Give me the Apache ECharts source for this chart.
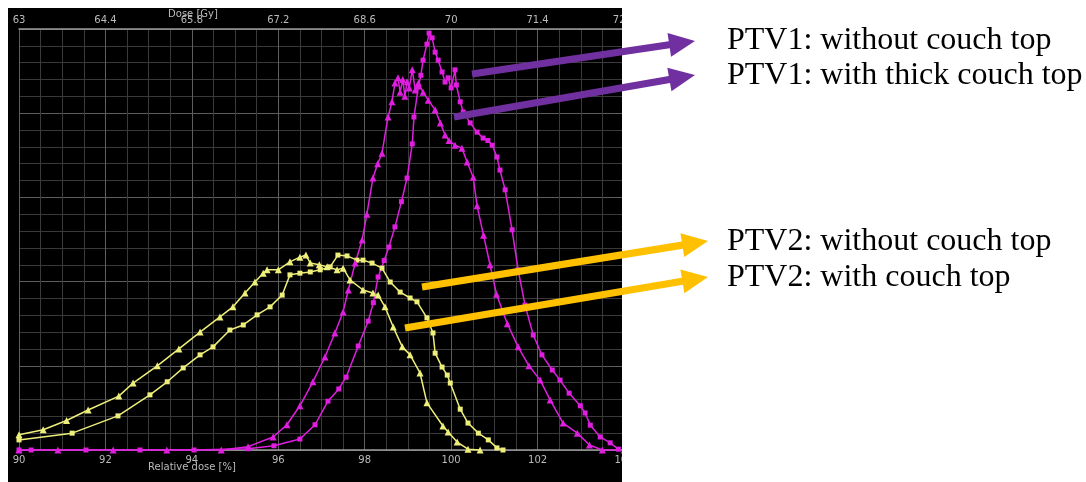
<!DOCTYPE html>
<html><head><meta charset="utf-8">
<script src="https://cdn.jsdelivr.net/npm/echarts@6/dist/echarts.min.js"></script>
<style>
html,body{margin:0;padding:0;background:#fff;}
#panel{position:absolute;left:8px;top:8px;width:614px;height:474px;background:#000;}
#chart{position:absolute;left:0;top:0;width:1086px;height:482px;}
</style></head>
<body>
<div id="panel"></div>
<div id="chart"></div>
<script>
// Relative dose [%] axis ticks and Dose [Gy] axis ticks
const relDoseRange = [90, 104];
const doseGyRange = [63, 72.8];

// PTV1 without couch top (magenta, squares): [relative dose %, volume %]
const ptv1Without = [[90,0],[90.28,0],[91.55,0],[92.8,0],[94.05,0],[95.3,0.3],[95.9,1],[96.5,2.6],[96.85,6],[97.15,11.6],[97.4,14.5],[97.57,17.3],[97.85,24.7],[98.08,30.6],[98.2,35],[98.31,41.1],[98.45,45],[98.56,48.2],[98.7,53],[98.85,59],[98.98,64.6],[99.1,72.7],[99.14,79.1],[99.24,86.2],[99.3,89],[99.35,92.6],[99.44,96.4],[99.49,99.0],[99.56,97.9],[99.63,94.5],[99.7,92.6],[99.79,89.8],[99.86,87.4],[99.93,88.4],[100.0,86],[100.09,90.3],[100.12,86.7],[100.21,82.7],[100.28,80.3],[100.44,77.7],[100.6,75.5],[100.74,74.1],[100.85,73.5],[100.95,72.4],[101.06,69.6],[101.13,66.5],[101.25,61.8],[101.41,52.3],[101.55,42.8],[101.71,34.4],[101.9,27.3],[102.1,22.6],[102.34,19],[102.52,16.6],[102.73,13.5],[102.99,10.5],[103.1,8.8],[103.22,5.9],[103.45,3.1],[103.68,1.7],[103.87,0.2]];

// PTV1 with thick couch top (magenta, triangles)
const ptv1Thick = [[90,0],[90.9,0],[92.18,0],[93.42,0],[94.68,0],[95.3,0.8],[95.88,3.1],[96.2,6],[96.5,10.5],[96.8,16.2],[97.08,22.1],[97.31,27.8],[97.5,32.8],[97.62,38],[97.78,44.4],[97.94,49.9],[98.05,56],[98.19,64.6],[98.3,68],[98.4,70.5],[98.54,79.1],[98.63,82.7],[98.7,87.2],[98.77,88.4],[98.82,85],[98.88,88],[98.93,84],[98.98,87.5],[99.03,86],[99.1,90.3],[99.17,85.5],[99.24,87.2],[99.35,85],[99.47,83.1],[99.63,80.8],[99.75,77.7],[99.86,74.8],[99.95,73.5],[100.09,72.4],[100.25,71.7],[100.37,68.4],[100.51,64.8],[100.6,58],[100.75,51],[100.9,44],[101.05,37],[101.3,30],[101.55,24.5],[101.8,20],[102.06,16.6],[102.29,11.9],[102.59,6.4],[102.92,4],[103.2,1.2],[103.5,0],[104,0]];

// PTV2 without couch top (yellow, squares)
const ptv2Without = [[90,2.4],[91.23,4],[92.29,8.1],[93.03,13.1],[93.43,16.2],[93.8,19.5],[94.19,22.6],[94.49,24.5],[94.88,28.5],[95.19,29.7],[95.51,32.1],[95.81,34],[96.09,36.8],[96.27,41.6],[96.5,42],[96.74,42.3],[96.97,42.8],[97.2,43.5],[97.38,46.3],[97.59,46.1],[97.82,45.1],[97.96,45.1],[98.17,44.4],[98.4,43.2],[98.59,39.9],[98.82,37.5],[99.05,36.1],[99.21,35.2],[99.44,31.4],[99.58,27.8],[99.63,23],[99.79,19.7],[99.91,17.8],[99.98,15.9],[100.21,9.7],[100.39,6.4],[100.63,4],[100.86,2.4],[101.06,0.5],[101.2,0]];

// PTV2 with couch top (yellow, triangles)
const ptv2With = [[90,3.6],[90.56,4.8],[91.1,7],[91.6,9.5],[92.31,12.8],[92.64,15.9],[93.2,20],[93.7,24],[94.19,28],[94.65,31.6],[94.95,34],[95.23,37.3],[95.46,39.9],[95.65,42],[95.74,42.8],[96,42.8],[96.27,44.7],[96.5,45.8],[96.64,46.3],[96.74,44.4],[96.95,44],[97.13,43.5],[97.36,42.8],[97.5,43.2],[97.66,40.4],[97.96,38],[98.19,37.3],[98.31,36.8],[98.47,34],[98.66,29.2],[98.87,24.5],[99.05,22.6],[99.28,18.3],[99.44,11.2],[99.81,5.7],[99.93,4.3],[100.14,1.9],[100.39,0.2],[100.67,0]];

const labels = ["PTV1: without couch top","PTV1: with thick couch top","PTV2: without couch top","PTV2: with couch top"];

const MAG = '#e01ee0', YEL = '#eeee7a';

function arrow(x1,y1,x2,y2,color,z){
  const dx=x2-x1, dy=y2-y1, L=Math.hypot(dx,dy), ux=dx/L, uy=dy/L, nx=-uy, ny=ux;
  const w=3.6, hl=26, hw=12;
  const bx=x2-ux*hl, by=y2-uy*hl;
  const pts=[[x1+nx*w,y1+ny*w],[bx+nx*w,by+ny*w],[bx+nx*hw,by+ny*hw],[x2,y2],[bx-nx*hw,by-ny*hw],[bx-nx*w,by-ny*w],[x1-nx*w,y1-ny*w]];
  return {type:'polygon',z:z,shape:{points:pts},style:{fill:color}};
}

const chart = echarts.init(document.getElementById('chart'), null, {renderer:'canvas'});
function mkSeries(name,data,color,symbol){
  return {name:name,type:'line',data:data,xAxisIndex:0,yAxisIndex:0,showSymbol:true,symbol:symbol,symbolSize:symbol==='triangle'?7:5,
    lineStyle:{color:color,width:1.5},itemStyle:{color:color},animation:false};
}
chart.setOption({
  backgroundColor:'transparent',
  animation:false,
  grid:{left:19,right:462,top:29,bottom:32},
  xAxis:[
    {type:'value',position:'bottom',min:relDoseRange[0],max:relDoseRange[1],interval:2,
     axisLine:{lineStyle:{color:'#9a9a9a',width:1.5}},axisTick:{show:false},
     axisLabel:{color:'#bbbbbb',fontSize:10,fontFamily:'DejaVu Sans',margin:5},
     splitLine:{show:true,lineStyle:{color:'#5e5e5e',width:1}},
     minorTick:{show:false,splitNumber:4},minorSplitLine:{show:true,lineStyle:{color:'#3a3a3a',width:1}}},
    {type:'value',position:'top',min:doseGyRange[0],max:doseGyRange[1],interval:1.4,
     axisLine:{lineStyle:{color:'#9a9a9a',width:1.5}},axisTick:{show:false},
     axisLabel:{color:'#bbbbbb',fontSize:10,fontFamily:'DejaVu Sans',margin:4,formatter:v=>String(Math.round(v*10)/10)},
     splitLine:{show:false}}
  ],
  yAxis:{type:'value',min:0,max:100,interval:20,
    axisLine:{show:false},axisTick:{show:false},axisLabel:{show:false},
    splitLine:{show:true,lineStyle:{color:'#5e5e5e',width:1}},
    minorTick:{show:false,splitNumber:5},minorSplitLine:{show:true,lineStyle:{color:'#3a3a3a',width:1}}},
  series:[
    mkSeries(labels[3],ptv2With,YEL,'triangle'),
    mkSeries(labels[2],ptv2Without,YEL,'rect'),
    mkSeries(labels[1],ptv1Thick,MAG,'triangle'),
    mkSeries(labels[0],ptv1Without,MAG,'rect')
  ],
  graphic:[
    {type:'text',z:50,x:193,y:14,style:{text:'Dose [Gy]',fill:'#bbbbbb',fontSize:10,fontFamily:'DejaVu Sans',align:'center',verticalAlign:'middle'}},
    {type:'text',z:50,x:192,y:467,style:{text:'Relative dose [%]',fill:'#bbbbbb',fontSize:10,fontFamily:'DejaVu Sans',align:'center',verticalAlign:'middle'}},
    {type:'rect',z:100,shape:{x:622,y:0,width:464,height:482},style:{fill:'#ffffff'}},
    {type:'rect',z:100,shape:{x:0,y:0,width:1086,height:8},style:{fill:'#ffffff'}},
    arrow(472,74,695,41,'#7030a0',110),
    arrow(454,117,695,75,'#7030a0',110),
    arrow(422,287,708,241,'#ffc000',110),
    arrow(405,328,708,277,'#ffc000',110),
    {type:'text',z:120,x:727,y:41,style:{text:labels[0],fill:'#000',fontSize:32,fontFamily:'Liberation Serif',verticalAlign:'middle'}},
    {type:'text',z:120,x:727,y:76,style:{text:labels[1],fill:'#000',fontSize:32,fontFamily:'Liberation Serif',verticalAlign:'middle'}},
    {type:'text',z:120,x:727,y:242,style:{text:labels[2],fill:'#000',fontSize:32,fontFamily:'Liberation Serif',verticalAlign:'middle'}},
    {type:'text',z:120,x:727,y:278,style:{text:labels[3],fill:'#000',fontSize:32,fontFamily:'Liberation Serif',verticalAlign:'middle'}}
  ]
});
</script>
</body></html>
